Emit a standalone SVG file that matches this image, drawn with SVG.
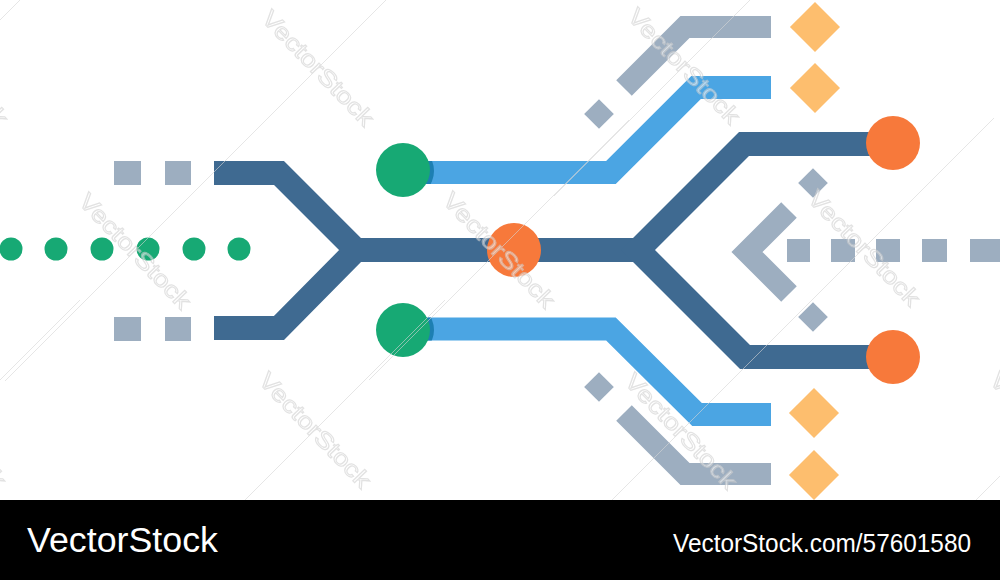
<svg xmlns="http://www.w3.org/2000/svg" width="1000" height="580" viewBox="0 0 1000 580">
<style>
.dk{fill:none;stroke:#3F6A91;stroke-width:24;stroke-linejoin:miter;stroke-miterlimit:4}
.lb{fill:none;stroke:#4BA5E3;stroke-width:23;stroke-linejoin:miter}
.gy{fill:none;stroke:#9DAEC0;stroke-width:22;stroke-linejoin:miter}
.gyf{fill:#9DAEC0}
.gr{fill:#17A974}
.or{fill:#F7793B}
.yl{fill:#FDBE6E}
.wm{font-family:"Liberation Sans",Arial,sans-serif;font-size:23px;fill:#fff;stroke:#cfcfcf;stroke-width:1.1}
.wl{stroke:#d6d6d6;stroke-width:1}
.foot{font-family:"Liberation Sans",Arial,sans-serif;fill:#fff}
</style>
<defs>
<clipPath id="cTop"><rect x="380" y="161" width="80" height="23"/></clipPath>
<clipPath id="cBot"><rect x="380" y="317.5" width="80" height="23"/></clipPath>
</defs>
<rect width="1000" height="580" fill="#fff"/>

<g id="connectors">
<path class="dk" d="M214,173 H279 L356,250 L279,328 H214"/>
<path class="dk" d="M350,250 H645"/>
<path class="dk" d="M893,144 H744 L638,250 L745,357 H893"/>
<path class="lb" d="M420,172.5 H611 L696,87.5 H771"/>
<path class="lb" d="M420,329 H611 L697,414.5 H771"/>
<path class="gy" d="M624,88 L685,27 H771"/>
<path class="gy" d="M624,413 L685,474 H771"/>
<path class="gy" d="M789,210 L747,252 L789,294"/>
</g>

<g id="dots-left">
<circle class="gr" cx="11" cy="249" r="11.5"/>
<circle class="gr" cx="56" cy="249" r="11.5"/>
<circle class="gr" cx="102" cy="249" r="11.5"/>
<circle class="gr" cx="148" cy="249" r="11.5"/>
<circle class="gr" cx="194" cy="249" r="11.5"/>
<circle class="gr" cx="239" cy="249" r="11.5"/>
</g>
<g id="squares-left">
<rect class="gyf" x="114" y="161" width="27" height="24"/>
<rect class="gyf" x="165" y="161" width="26" height="24"/>
<rect class="gyf" x="114" y="317" width="27" height="24"/>
<rect class="gyf" x="165" y="317" width="26" height="24"/>
</g>
<g id="dashes-right">
<rect class="gyf" x="787" y="239" width="23" height="23"/>
<rect class="gyf" x="831" y="239" width="24" height="23"/>
<rect class="gyf" x="876" y="239" width="24" height="23"/>
<rect class="gyf" x="922" y="239" width="25" height="23"/>
<rect class="gyf" x="970" y="239" width="30" height="23"/>
</g>
<g id="diamonds-gray">
<rect class="gyf" x="-10.5" y="-10.5" width="21" height="21" transform="translate(599,114) rotate(45)"/>
<rect class="gyf" x="-10.5" y="-10.5" width="21" height="21" transform="translate(599,387) rotate(45)"/>
<rect class="gyf" x="-10.5" y="-10.5" width="21" height="21" transform="translate(813,183) rotate(45)"/>
<rect class="gyf" x="-10.5" y="-10.5" width="21" height="21" transform="translate(813,317) rotate(45)"/>
</g>
<g id="diamonds-orange">
<rect class="yl" x="-17.7" y="-17.7" width="35.4" height="35.4" transform="translate(815,27) rotate(45)"/>
<rect class="yl" x="-17.7" y="-17.7" width="35.4" height="35.4" transform="translate(815,88) rotate(45)"/>
<rect class="yl" x="-17.7" y="-17.7" width="35.4" height="35.4" transform="translate(814,413) rotate(45)"/>
<rect class="yl" x="-17.7" y="-17.7" width="35.4" height="35.4" transform="translate(814,475) rotate(45)"/>
</g>
<g id="node-green-top">
<circle cx="407" cy="171" r="27" fill="#1D7FB2" clip-path="url(#cTop)"/>
<circle class="gr" cx="403" cy="170" r="27"/>
</g>
<g id="node-green-bottom">
<circle cx="407" cy="330" r="27" fill="#1D7FB2" clip-path="url(#cBot)"/>
<circle class="gr" cx="403" cy="330" r="27"/>
</g>
<g id="node-orange-center"><circle class="or" cx="514" cy="250" r="27"/></g>
<g id="node-orange-top"><circle class="or" cx="893" cy="143" r="27"/></g>
<g id="node-orange-bottom"><circle class="or" cx="893" cy="357" r="27"/></g>

<g id="watermark" opacity="0.6">
<g transform="translate(318,68)"><line class="wl" x1="-130" y1="130" x2="130" y2="-130"/><text class="wm" transform="rotate(46)" x="0" y="8" text-anchor="middle" textLength="150" lengthAdjust="spacingAndGlyphs">VectorStock</text></g>
<g transform="translate(684,66)"><line class="wl" x1="-130" y1="130" x2="130" y2="-130"/><text class="wm" transform="rotate(46)" x="0" y="8" text-anchor="middle" textLength="150" lengthAdjust="spacingAndGlyphs">VectorStock</text></g>
<g transform="translate(-48,68)"><line class="wl" x1="-130" y1="130" x2="130" y2="-130"/><text class="wm" transform="rotate(46)" x="0" y="8" text-anchor="middle" textLength="150" lengthAdjust="spacingAndGlyphs">VectorStock</text></g>
<g transform="translate(135,251)"><line class="wl" x1="-130" y1="130" x2="130" y2="-130"/><text class="wm" transform="rotate(46)" x="0" y="8" text-anchor="middle" textLength="150" lengthAdjust="spacingAndGlyphs">VectorStock</text></g>
<g transform="translate(499,250)"><line class="wl" x1="-130" y1="130" x2="130" y2="-130"/><text class="wm" transform="rotate(46)" x="0" y="8" text-anchor="middle" textLength="150" lengthAdjust="spacingAndGlyphs">VectorStock</text></g>
<g transform="translate(864,248)"><line class="wl" x1="-130" y1="130" x2="130" y2="-130"/><text class="wm" transform="rotate(46)" x="0" y="8" text-anchor="middle" textLength="150" lengthAdjust="spacingAndGlyphs">VectorStock</text></g>
<g transform="translate(315,430)"><line class="wl" x1="-130" y1="130" x2="130" y2="-130"/><text class="wm" transform="rotate(46)" x="0" y="8" text-anchor="middle" textLength="150" lengthAdjust="spacingAndGlyphs">VectorStock</text></g>
<g transform="translate(681,431)"><line class="wl" x1="-130" y1="130" x2="130" y2="-130"/><text class="wm" transform="rotate(46)" x="0" y="8" text-anchor="middle" textLength="150" lengthAdjust="spacingAndGlyphs">VectorStock</text></g>
<g transform="translate(-50,430)"><line class="wl" x1="-130" y1="130" x2="130" y2="-130"/><text class="wm" transform="rotate(46)" x="0" y="8" text-anchor="middle" textLength="150" lengthAdjust="spacingAndGlyphs">VectorStock</text></g>
<g transform="translate(1046,430)"><line class="wl" x1="-130" y1="130" x2="130" y2="-130"/><text class="wm" transform="rotate(46)" x="0" y="8" text-anchor="middle" textLength="150" lengthAdjust="spacingAndGlyphs">VectorStock</text></g>
</g>

<g id="footer">
<rect x="0" y="500" width="1000" height="80" fill="#000"/>
<text class="foot" x="27" y="552" font-size="35" textLength="191" lengthAdjust="spacingAndGlyphs">VectorStock</text>
<text class="foot" x="673" y="552" font-size="26.5" textLength="298" lengthAdjust="spacingAndGlyphs">VectorStock.com/57601580</text>
</g>
</svg>
